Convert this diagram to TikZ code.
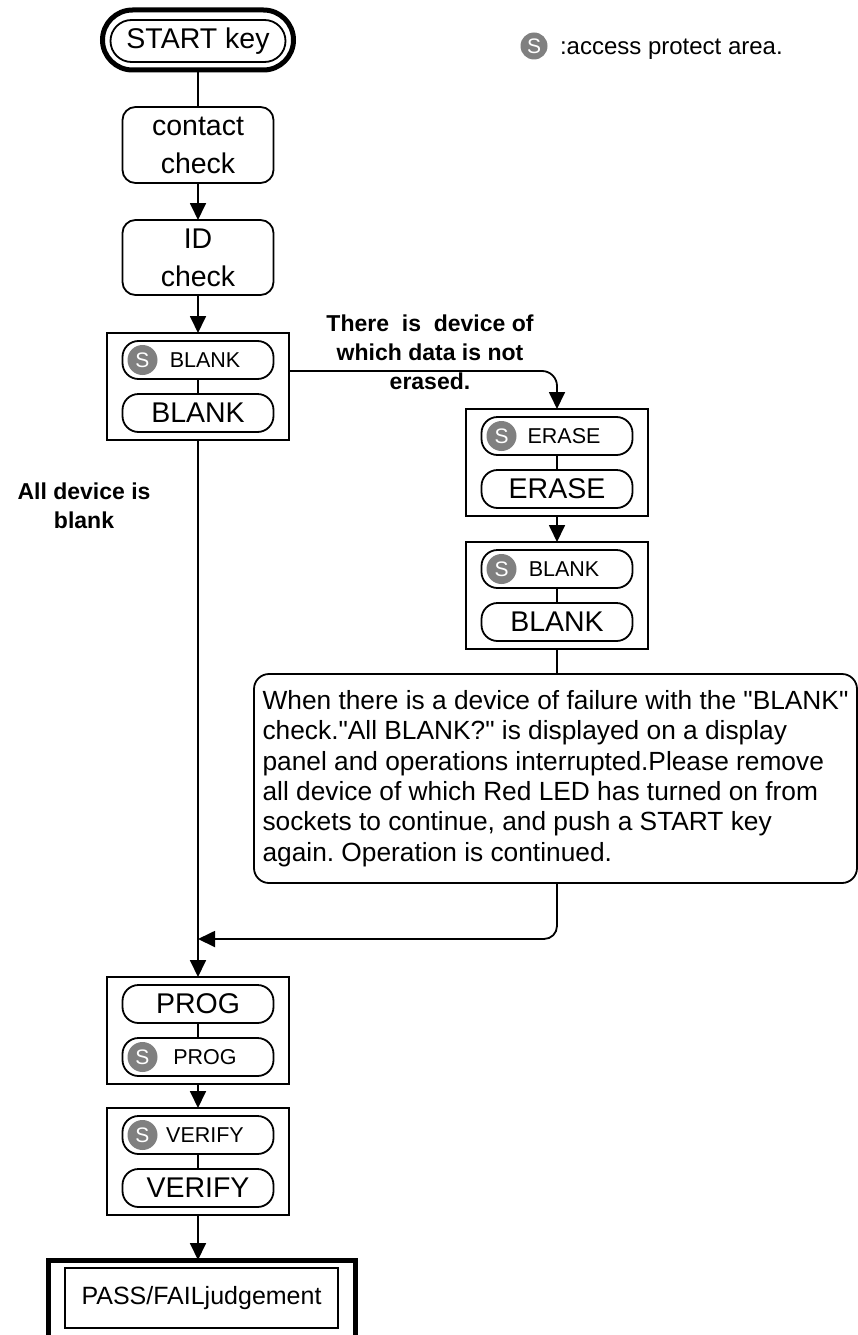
\documentclass[tikz,border=0pt]{standalone}
\usepackage{fontspec}
\setmainfont{Liberation Sans}[Ligatures=TeXOff]
\usetikzlibrary{arrows.meta}
\definecolor{sgray}{RGB}{128,128,128}
\frenchspacing
\begin{document}
\begin{tikzpicture}[x=1pt,y=-1pt,
  every node/.style={inner sep=0pt, outer sep=0pt},
  ln/.style={line width=1.8pt, black},
  arr/.style={ln, -{Triangle[width=16pt,length=17pt]}},
  big/.style={font=\fontsize{28.5}{38}\selectfont},
  small/.style={font=\fontsize{21.5}{24}\selectfont},
  rbox/.style={draw, line width=1.8pt, rounded corners=13pt, minimum width=151pt, minimum height=76pt, align=center, big},
  pill/.style={draw, line width=1.8pt, rounded corners=16pt, minimum width=151pt, minimum height=38pt},
  grp/.style={draw, line width=1.8pt, minimum width=182pt, minimum height=107pt},
  scirc/.style={circle, fill=sgray, minimum size=30pt, text=white, font=\fontsize{21}{21}\selectfont},
  lbl/.style={font=\bfseries\fontsize{23}{29}\selectfont, align=center},
]
\useasboundingbox (0,0) rectangle (858,1335);
\clip (0,0) rectangle (858,1335);

% legend
\node[scirc, minimum size=27pt] (lgs) at (534,46) {S};
\node[anchor=base west, font=\fontsize{24}{24}\selectfont] (lgt) at (560,55) {:access protect area.};

% start
\node[draw, line width=5pt, rounded corners=30pt, minimum width=191pt, minimum height=60pt] (startout) at (198,40) {};
\node[draw, line width=1.8pt, rounded corners=21pt, minimum width=175pt, minimum height=42pt, big] (start) at (198,41) {START key};

\node[rbox] (contact) at (198,145) {contact\\check};
\node[rbox, minimum height=75pt] (id) at (198,257.5) {ID\\check};

% group 1: BLANK
\node[grp] (g1) at (198,386.5) {};
\node[pill, small] (g1a) at (198,360) {\hspace*{14pt}BLANK};
\node[scirc] (g1s) at ([xshift=20pt]g1a.west) {S};
\node[pill, big] (g1b) at (198,413) {BLANK};

% group 2: ERASE
\node[grp] (g2) at (557,462.5) {};
\node[pill, small] (g2a) at (557,436) {\hspace*{14pt}ERASE};
\node[scirc] (g2s) at ([xshift=20pt]g2a.west) {S};
\node[pill, big] (g2b) at (557,489) {ERASE};

% group 3: BLANK
\node[grp] (g3) at (557,595.5) {};
\node[pill, small] (g3a) at (557,569) {\hspace*{14pt}BLANK};
\node[scirc] (g3s) at ([xshift=20pt]g3a.west) {S};
\node[pill, big] (g3b) at (557,622) {BLANK};

% note
\node[draw, line width=1.8pt, rounded corners=15pt, minimum width=603pt, minimum height=209pt,
      align=left, font=\fontsize{26.3}{30.4}\selectfont] (note) at (555.5,778.5)
  {When there is a device of failure with the "BLANK"\\
   check."All BLANK?" is displayed on a display\\
   panel and operations interrupted.Please remove\\
   all device of which Red LED has turned on from\\
   sockets to continue, and push a START key\\
   again. Operation is continued.};

% group 4: PROG
\node[grp] (g4) at (198,1030.5) {};
\node[pill, big] (g4a) at (198,1004) {PROG};
\node[pill, small] (g4b) at (198,1057) {\hspace*{14pt}PROG};
\node[scirc] (g4s) at ([xshift=20pt]g4b.west) {S};

% group 5: VERIFY
\node[grp] (g5) at (198,1161.5) {};
\node[pill, small] (g5a) at (198,1135) {\hspace*{14pt}VERIFY};
\node[scirc] (g5s) at ([xshift=20pt]g5a.west) {S};
\node[pill, big] (g5b) at (198,1188) {VERIFY};

% pass/fail
\node[draw, line width=5pt, minimum width=307pt, minimum height=80pt] (passout) at (201.5,1300) {};
\node[draw, line width=1.8pt, minimum width=273pt, minimum height=60pt, font=\fontsize{25}{25}\selectfont] (pass) at (201.5,1298) {PASS/FAILjudgement};

% labels
\node[lbl] (lab1) at (430,352) {There\ \ is\ \ device of\\which data is not\\erased.};
\node[lbl] (lab2) at (84,506) {All device is\\blank};

% connectors
\coordinate (mj) at (198,939);
\draw[ln] (startout.south) -- (contact.north);
\draw[arr] (contact.south) -- (id.north);
\draw[arr] (id.south) -- (g1.north);
\draw[ln] (g1a.south) -- (g1b.north);
\draw[ln] (g2a.south) -- (g2b.north);
\draw[ln] (g3a.south) -- (g3b.north);
\draw[ln] (g4a.south) -- (g4b.north);
\draw[ln] (g5a.south) -- (g5b.north);
\draw[arr, rounded corners=15pt] ([yshift=15.5pt]g1.east) -| (g2.north);
\draw[arr] (g2.south) -- (g3.north);
\draw[ln] (g3.south) -- (g3.south |- note.north);
\draw[arr] (g1.south) -- (g4.north);
\draw[arr, rounded corners=13pt] (g3.south |- note.south) |- (mj);
\draw[arr] (g4.south) -- (g5.north);
\draw[arr] (g5.south) -- (g5.south |- passout.north);
\end{tikzpicture}
\end{document}
